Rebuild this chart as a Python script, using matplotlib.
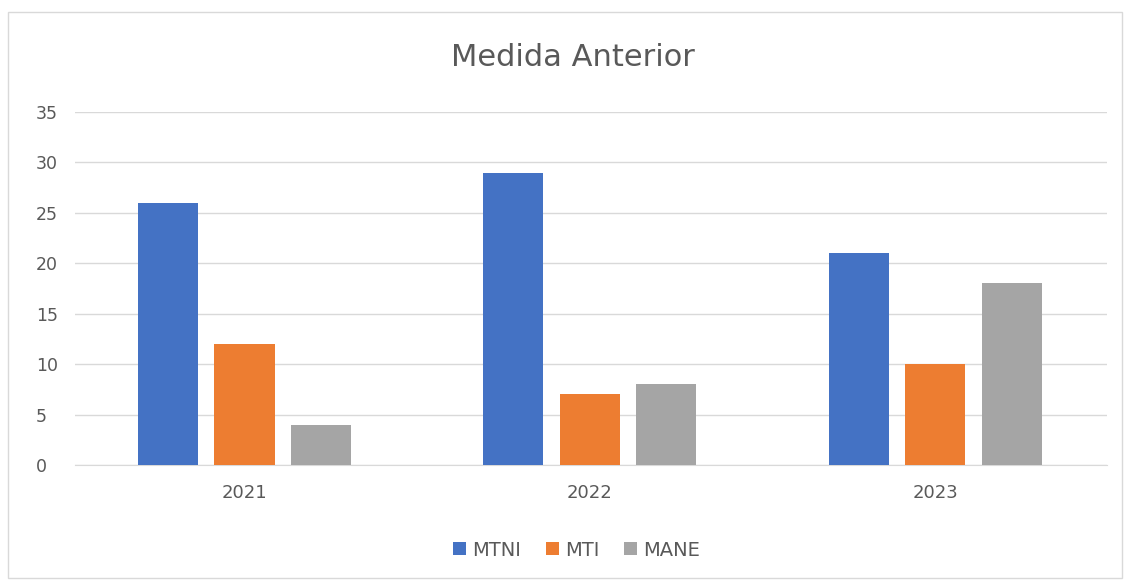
import matplotlib
matplotlib.use("Agg")
import matplotlib.pyplot as plt
import numpy as np
from matplotlib.patches import Rectangle

categories = ["2021", "2022", "2023"]
series_names = ["MTNI", "MTI", "MANE"]
mtni = [26, 29, 21]
mti = [12, 7, 10]
mane = [4, 8, 18]
colors = ["#4472C4", "#ED7D31", "#A5A5A5"]
yticks = [0, 5, 10, 15, 20, 25, 30, 35]

fig = plt.figure(figsize=(11.26, 5.81), dpi=100)
fig.patch.set_facecolor("white")
# outer chart border
fig.add_artist(Rectangle((8/1126, 1-578/581), (1122-8)/1126, (578-12)/581,
                         transform=fig.transFigure, fill=False, edgecolor="#D9D9D9", lw=1))

ax = fig.add_axes([75/1126, 1-465/581, (1107-75)/1126, (465-112)/581])
x = np.arange(len(categories))
w = 0.174
step = 0.2216
for i, (vals, name) in enumerate(zip([mtni, mti, mane], series_names)):
    ax.bar(x + (i-1)*step, vals, width=w, color=colors[i], label=name, zorder=3)

ax.set_xlim(-0.491, 2.498)
ax.set_ylim(0, 35)
ax.set_yticks(yticks)
ax.set_xticks(x)
ax.set_xticklabels(categories)
ax.grid(axis="y", color="#D9D9D9", lw=1, zorder=0)
for s in ["top", "right", "left"]:
    ax.spines[s].set_visible(False)
ax.spines["bottom"].set_color("#D9D9D9")
ax.tick_params(axis="both", length=0, colors="#595959", labelsize=12.5)
ax.tick_params(axis="x", labelsize=13, pad=14)
ax.tick_params(axis="y", pad=28)
for lab in ax.get_yticklabels():
    lab.set_horizontalalignment("left")

fig.text(572.5/1126, 1-57/581, "Medida Anterior", fontsize=22, color="#595959",
         ha="center", va="center")

fig.legend(loc="center", bbox_to_anchor=(576.5/1126, 1-550/581), ncol=3, frameon=False,
           fontsize=14, labelcolor="#595959", handlelength=0.67, handleheight=0.67,
           handletextpad=0.3, columnspacing=1.3)

fig.savefig("out.png", dpi=100)
